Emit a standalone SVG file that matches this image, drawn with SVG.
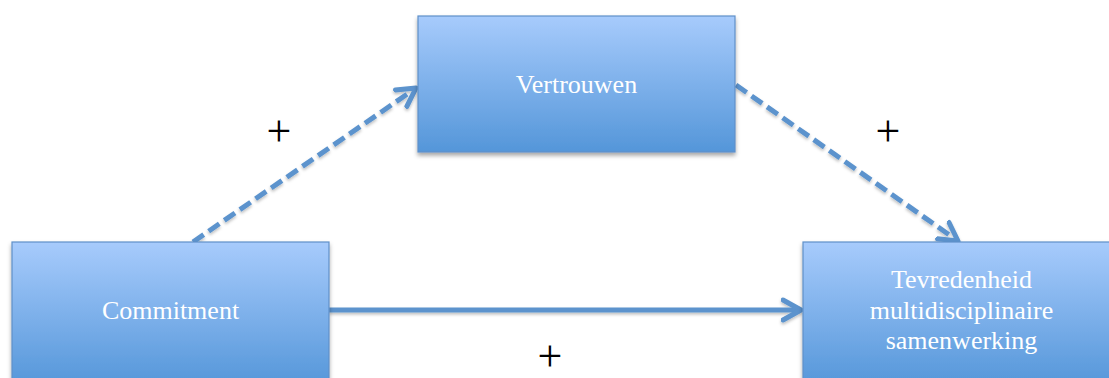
<svg xmlns="http://www.w3.org/2000/svg" width="1109" height="378" viewBox="0 0 1109 378">
<defs>
<linearGradient id="g" x1="0" y1="0" x2="0" y2="1">
<stop offset="0" stop-color="#a7cbfc"/>
<stop offset="1" stop-color="#5496d9"/>
</linearGradient>
<filter id="sh" x="-10%" y="-10%" width="120%" height="130%">
<feDropShadow dx="0" dy="3" stdDeviation="2" flood-color="#000" flood-opacity="0.35"/>
</filter>
<filter id="lsh" filterUnits="userSpaceOnUse" x="0" y="0" width="1109" height="378">
<feDropShadow dx="0" dy="2" stdDeviation="1.5" flood-color="#000" flood-opacity="0.25"/>
</filter>
<marker id="ah" markerUnits="userSpaceOnUse" markerWidth="30" markerHeight="30" refX="20" refY="11" orient="auto" viewBox="0 0 30 22">
<path d="M2,1 L20,11 L2,21" fill="none" stroke="#5b93cd" stroke-width="5" stroke-linecap="round" stroke-linejoin="round" stroke-dasharray="none"/>
</marker>
</defs>
<style>
.box{fill:url(#g);stroke:#5f90c9;stroke-width:1.2;filter:url(#sh)}
.lbl{font-family:"Liberation Serif","Times New Roman",serif;font-size:26px;fill:#ffffff;text-anchor:middle}
.plus{font-family:"Liberation Serif","Times New Roman",serif;font-size:44px;fill:#000;text-anchor:middle}
.con{fill:none;stroke:#5b93cd;stroke-width:5;marker-end:url(#ah);filter:url(#lsh)}
.dash{stroke-dasharray:13 6}
</style>
<g id="connectors">
<path class="con dash" d="M193,242 L416,88"/>
<path class="con dash" d="M736,85 L958,241"/>
<path class="con" d="M329,310 L801,310"/>
</g>
<g id="node-vertrouwen">
<rect class="box" x="418" y="16" width="317" height="136"/>
<text class="lbl" x="576.5" y="93">Vertrouwen</text>
</g>
<g id="node-commitment">
<rect class="box" x="12" y="242" width="317" height="145"/>
<text class="lbl" x="170.5" y="319">Commitment</text>
</g>
<g id="node-tevredenheid">
<rect class="box" x="803" y="242" width="317" height="145"/>
<text class="lbl" x="961.5" y="288">Tevredenheid</text>
<text class="lbl" x="961.5" y="318.5">multidisciplinaire</text>
<text class="lbl" x="961.5" y="349">samenwerking</text>
</g>
<g id="labels">
<text class="plus" x="279" y="146">+</text>
<text class="plus" x="888" y="146">+</text>
<text class="plus" x="550" y="371">+</text>
</g>
</svg>
